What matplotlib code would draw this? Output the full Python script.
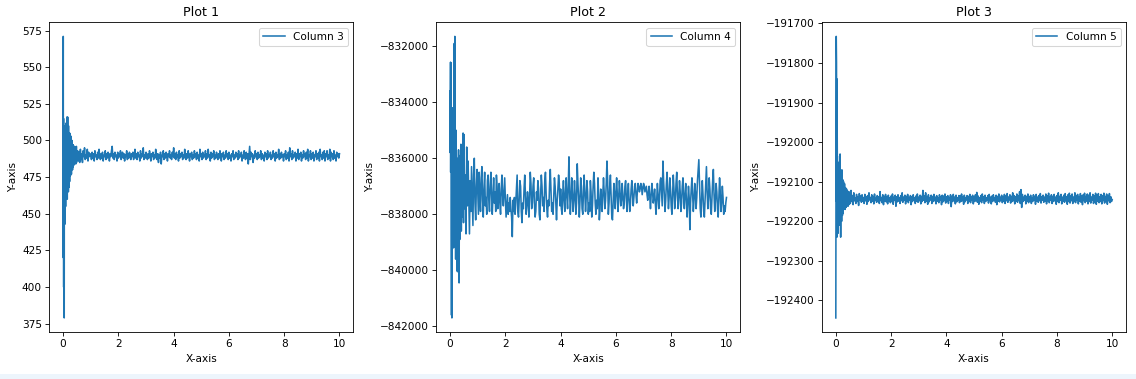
import numpy as np
import matplotlib
matplotlib.use("Agg")
import matplotlib.pyplot as plt
from matplotlib.patches import Rectangle

EARLY_END = 0.5   # fine-sampled start-up segment (step 0.005)
T_END = 10.0      # coarse segment 0.5 .. 10 (step 0.025)

col3_early = [
    490, 571, 420, 515, 400, 505, 388, 510, 379, 500,
    445, 500, 460, 498, 443, 505, 470, 495, 455, 500,
    475, 505, 480, 512, 468, 500, 485, 516, 472, 498,
    460, 508, 478, 516, 482, 470, 505, 490, 465, 510,
    476, 503, 488, 468, 500, 480, 498, 472, 505, 484,
    478, 500, 487, 476, 497, 482, 503, 480, 494, 485,
    477, 498, 486, 495, 481, 500, 484, 492, 480, 497,
    486, 494, 482, 497, 487, 491, 483, 496, 488, 485,
    493, 486, 496, 484, 490, 494, 485, 492, 488, 495,
    486, 491, 484, 494, 489, 487, 496, 485, 492, 488,
]
col3 = [
    487, 493, 486, 492, 485, 494, 487, 491, 485, 493, 489, 495, 487, 490, 488, 494, 486, 492, 489, 491,
    490, 487, 492, 488, 491, 486, 493, 489, 490, 487, 492, 488, 494, 489, 487, 491, 488, 492, 486, 490,
    489, 493, 487, 491, 488, 492, 490, 486, 491, 489, 493, 496, 488, 491, 487, 492, 489, 490, 486, 492,
    488, 491, 489, 493, 487, 490, 492, 488, 491, 486, 490, 489, 493, 487, 491, 488, 492, 490, 487, 491,
    489, 492, 487, 490, 494, 488, 491, 487, 492, 489, 490, 486, 493, 488, 491, 489, 495, 487, 490, 488,
    492, 489, 487, 491, 488, 493, 490, 486, 491, 489, 492, 487, 490, 488, 494, 489, 487, 491, 485, 490,
    488, 492, 484, 490, 489, 493, 487, 491, 488, 492, 490, 486, 491, 489, 493, 488, 490, 487, 492, 489,
    495, 488, 491, 487, 492, 489, 490, 486, 493, 488, 491, 489, 492, 487, 490, 488, 494, 489, 487, 491,
    488, 493, 490, 486, 491, 489, 492, 487, 490, 488, 493, 489, 491, 487, 492, 488, 490, 486, 494, 489,
    491, 487, 492, 488, 490, 489, 493, 487, 491, 488, 494, 489, 490, 486, 492, 488, 491, 489, 493, 487,
    490, 488, 492, 489, 487, 491, 488, 493, 490, 486, 491, 489, 492, 487, 490, 488, 493, 489, 491, 487,
    492, 488, 490, 486, 491, 489, 493, 487, 490, 488, 492, 489, 491, 487, 493, 488, 490, 489, 492, 486,
    490, 488, 493, 489, 487, 492, 488, 491, 484, 490, 496, 487, 492, 489, 491, 485, 490, 488, 493, 489,
    491, 487, 492, 488, 490, 489, 493, 487, 491, 488, 490, 486, 492, 489, 491, 487, 493, 488, 490, 489,
    492, 487, 490, 488, 493, 489, 491, 486, 492, 488, 490, 489, 494, 487, 491, 488, 492, 489, 490, 486,
    491, 489, 493, 487, 490, 488, 492, 486, 495, 489, 491, 487, 493, 488, 490, 489, 492, 486, 491, 488,
    494, 487, 491, 489, 492, 486, 490, 488, 493, 489, 491, 487, 492, 488, 494, 486, 490, 489, 493, 487,
    491, 488, 492, 486, 490, 489, 493, 487, 491, 488, 492, 486, 494, 489, 490, 487, 492, 488, 493, 486,
    491, 489, 493, 487, 490, 488, 494, 486, 492, 489, 491, 487, 493, 488, 490, 486, 492, 489, 491, 488,
    491,
]

col4_early = [
    -833600, -835800, -834000, -832570, -836500, -835000, -832600, -837000, -838500, -841000,
    -841600, -839000, -836500, -841700, -840000, -837500, -835500, -838800, -836900, -834200,
    -837300, -838500, -836000, -834800, -837600, -839200, -837000, -835300, -836800, -833000,
    -831900, -834200, -836800, -835400, -831650, -833500, -836000, -837600, -835300, -838300,
    -839600, -837400, -836100, -835000, -837800, -838900, -837000, -836400, -838500, -840000,
    -838200, -836900, -837800, -840050, -838600, -837100, -836000, -837700, -838800, -837300,
    -836200, -835700, -837400, -838700, -839500, -840450, -838300, -837200, -836400, -837900,
    -838900, -837600, -836800, -835900, -837200, -838400, -837500, -836400, -835500, -836900,
    -837800, -838600, -837300, -836600, -835700, -836800, -837900, -837200, -836300, -837500,
    -838100, -837400, -836700, -835300, -835100, -836700, -837800, -838300, -837200, -836500,
]
col4 = [
    -835150, -837800, -836600, -838700, -835600, -837700, -836100, -837500, -838700, -836800,
    -837900, -836300, -837400, -838400, -836600, -836000, -837600, -838200, -837000, -836400,
    -837200, -838000, -836500, -837300, -837900, -836700, -836300, -837500, -838100, -837100,
    -836500, -837700, -837400, -838000, -836800, -836600, -837500, -837900, -837000, -836500,
    -837300, -838000, -837400, -836700, -837600, -837200, -837900, -836600, -837000, -837800,
    -837500, -836900, -837600, -838000, -837100, -836600, -837300, -837700, -837200, -836700,
    -837500, -838100, -837700, -837300, -838000, -837600, -837900, -837400, -837800, -838100,
    -838800, -837500, -837900, -837400, -838000, -837600, -837100, -836600, -837900, -838100,
    -837400, -836800, -837000, -837900, -838300, -837600, -837800, -837100, -836600, -837300,
    -838000, -837700, -837200, -837500, -838100, -837400, -836500, -836900, -837800, -837600,
    -837000, -836700, -837600, -838100, -837900, -837200, -837500, -836800, -837100, -838000,
    -838200, -837300, -836600, -837000, -837700, -837400, -837900, -836800, -836500, -837300,
    -837800, -838100, -837500, -837700, -836900, -836400, -837200, -837900, -837600, -838000,
    -837300, -836700, -837000, -837600, -838200, -837500, -837100, -836600, -836900, -837700,
    -837100, -837800, -838000, -837300, -836800, -837500, -837900, -837200, -836700, -837400,
    -837800, -837000, -835950, -837200, -838000, -837400, -836700, -837300, -837900, -837500,
    -836800, -837300, -838000, -837600, -836200, -836900, -837400, -838100, -837500, -836700,
    -837000, -837800, -838000, -837200, -836600, -837300, -837900, -837400, -836800, -837200,
    -838000, -837600, -837900, -836800, -837200, -838100, -837700, -837000, -836500, -836900,
    -837600, -838000, -837500, -837800, -836700, -837300, -838200, -837800, -837100, -837400,
    -837900, -837300, -836700, -837200, -837800, -837500, -836900, -836100, -836800, -838000,
    -837600, -837000, -836600, -837400, -838100, -838200, -837500, -836900, -837300, -837800,
    -837200, -836700, -837300, -837900, -837400, -836800, -837200, -837700, -837500, -836900,
    -837300, -837800, -837600, -837000, -836800, -837400, -837900, -837300, -836900, -837500,
    -837900, -837600, -837100, -836800, -837300, -837700, -837400, -837000, -836900, -837300,
    -837600, -837200, -836900, -837000, -837200, -837100, -836900, -837000, -837300, -837100,
    -836900, -837000, -837200, -837100, -837000, -837300, -837500, -837200, -837000, -837400,
    -837800, -837300, -836900, -837200, -837600, -837400, -837100, -837600, -838000, -837500,
    -836900, -837300, -837800, -837500, -836800, -836700, -837200, -837700, -836100, -836800,
    -837300, -837900, -837500, -836900, -836500, -837200, -837800, -837400, -836700, -837100,
    -837700, -838000, -837300, -836600, -837100, -837800, -837500, -836900, -836500, -837300,
    -837800, -837400, -836800, -837200, -837900, -837600, -837000, -836700, -837400, -837800,
    -837300, -836900, -837500, -838100, -837600, -837000, -837400, -838550, -837600, -837100,
    -836700, -837300, -837900, -837500, -836900, -837200, -837800, -837400, -836800, -836400,
    -836050, -837000, -837800, -838100, -837400, -836800, -837300, -837900, -838100, -837500,
    -836900, -836300, -837200, -837800, -837400, -836700, -837100, -837800, -838000, -837400,
    -836800, -836400, -837300, -837900, -837500, -836900, -837200, -837800, -838100, -837400,
    -836700, -837200, -837900, -837600, -837000, -837400, -838000, -837700, -837900, -837600,
    -837400,
]

col5_early = [
    -192444, -192100, -191900, -191733, -191760, -191800, -192150, -191840, -192240, -191900,
    -191970, -192060, -192180, -192100, -192200, -192070, -192150, -192230, -192090, -192160,
    -192060, -192190, -192120, -192080, -192210, -192050, -192140, -192170, -192035, -192120,
    -192180, -192030, -192100, -192200, -192140, -192240, -192080, -192160, -192110, -192190,
    -192090, -192150, -192200, -192120, -192070, -192170, -192130, -192100, -192185, -192140,
    -192095, -192160, -192125, -192180, -192110, -192145, -192100, -192170, -192130, -192115,
    -192165, -192120, -192150, -192105, -192160, -192135, -192115, -192170, -192125, -192150,
    -192115, -192160, -192135, -192120, -192165, -192130, -192145, -192118, -192158, -192135,
    -192125, -192160, -192140, -192122, -192155, -192135, -192150, -192125, -192162, -192138,
    -192128, -192155, -192142, -192125, -192158, -192133, -192150, -192127, -192156, -192140,
]
col5 = [
    -192130, -192155, -192122, -192150, -192135, -192158, -192128, -192148, -192140, -192155,
    -192132, -192150, -192138, -192160, -192130, -192147, -192136, -192152, -192133, -192149,
    -192140, -192155, -192132, -192148, -192138, -192157, -192135, -192150, -192128, -192146,
    -192140, -192153, -192133, -192149, -192137, -192156, -192131, -192147, -192142, -192152,
    -192135, -192150, -192138, -192155, -192125, -192148, -192140, -192153, -192133, -192158,
    -192137, -192149, -192132, -192151, -192139, -192156, -192134, -192148, -192141, -192153,
    -192136, -192150, -192131, -192157, -192139, -192147, -192134, -192162, -192138, -192151,
    -192133, -192149, -192140, -192155, -192135, -192148, -192128, -192152, -192139, -192147,
    -192134, -192156, -192137, -192149, -192132, -192153, -192140, -192147, -192135, -192158,
    -192138, -192150, -192133, -192146, -192141, -192155, -192136, -192149, -192131, -192152,
    -192139, -192148, -192134, -192156, -192137, -192150, -192122, -192147, -192135, -192153,
    -192128, -192149, -192138, -192157, -192133, -192151, -192140, -192146, -192134, -192155,
    -192137, -192150, -192132, -192148, -192139, -192156, -192135, -192149, -192141, -192153,
    -192133, -192147, -192138, -192158, -192134, -192151, -192136, -192148, -192131, -192154,
    -192138, -192149, -192135, -192155, -192140, -192147, -192133, -192163, -192137, -192150,
    -192132, -192148, -192139, -192156, -192134, -192151, -192141, -192147, -192135, -192153,
    -192136, -192150, -192131, -192148, -192139, -192157, -192134, -192151, -192140, -192146,
    -192135, -192155, -192137, -192149, -192132, -192153, -192138, -192147, -192134, -192156,
    -192139, -192150, -192133, -192148, -192127, -192152, -192136, -192157, -192140, -192149,
    -192135, -192153, -192131, -192147, -192138, -192155, -192134, -192150, -192141, -192146,
    -192135, -192154, -192132, -192148, -192139, -192156, -192136, -192150, -192133, -192147,
    -192140, -192152, -192134, -192158, -192137, -192149, -192131, -192151, -192139, -192147,
    -192134, -192153, -192138, -192149, -192132, -192155, -192136, -192148, -192130, -192152,
    -192139, -192146, -192133, -192154, -192137, -192150, -192128, -192148, -192135, -192156,
    -192138, -192149, -192131, -192152, -192136, -192147, -192125, -192155, -192120, -192165,
    -192132, -192150, -192139, -192147, -192134, -192156, -192137, -192149, -192131, -192153,
    -192138, -192148, -192134, -192155, -192140, -192150, -192133, -192147, -192137, -192157,
    -192132, -192149, -192139, -192152, -192135, -192148, -192130, -192154, -192138, -192147,
    -192134, -192152, -192139, -192149, -192131, -192156, -192136, -192148, -192129, -192153,
    -192138, -192147, -192133, -192155, -192137, -192150, -192132, -192148, -192139, -192157,
    -192135, -192150, -192128, -192153, -192137, -192147, -192132, -192156, -192139, -192149,
    -192134, -192152, -192130, -192148, -192138, -192157, -192133, -192150, -192129, -192154,
    -192136, -192148, -192131, -192155, -192139, -192150, -192128, -192153, -192135, -192147,
    -192132, -192156, -192138, -192149, -192130, -192152, -192136, -192158, -192133, -192148,
    -192129, -192153, -192137, -192149, -192131, -192156, -192134, -192150, -192128, -192154,
    -192139, -192147, -192132, -192155, -192136, -192151, -192129, -192157, -192134, -192149,
    -192130, -192153, -192138, -192150, -192132, -192156, -192135, -192148, -192129, -192154,
    -192137, -192150, -192131, -192157, -192136, -192148, -192130, -192153, -192138, -192150,
    -192145,
]

series = [(col3_early, col3), (col4_early, col4), (col5_early, col5)]
labels = ["Column 3", "Column 4", "Column 5"]
titles = ["Plot 1", "Plot 2", "Plot 3"]

W, H = 1136, 379
DPI = 75.75
fig = plt.figure(figsize=(W / DPI, H / DPI), dpi=DPI)

lefts = [49.3, 436.3, 822.0]
ax_w, ax_top, ax_bot = 304.0, 22.3, 332.0

for left, (early, main), lab, tt in zip(lefts, series, labels, titles):
    ax = fig.add_axes([left / W, (H - ax_bot) / H, ax_w / W, (ax_bot - ax_top) / H])
    xs = np.concatenate([np.linspace(0, EARLY_END, len(early), endpoint=False),
                         np.linspace(EARLY_END, T_END, len(main))])
    ys = np.concatenate([early, main])
    ax.plot(xs, ys, label=lab)
    ax.set_title(tt)
    ax.set_xlabel("X-axis")
    ax.set_ylabel("Y-axis")
    ax.legend(loc="upper right")

fig.patches.append(Rectangle((0, 0), 1, 5 / H, transform=fig.transFigure,
                             facecolor="#edf5fc", edgecolor="none", zorder=-1))

fig.savefig("out.png", dpi=DPI)
